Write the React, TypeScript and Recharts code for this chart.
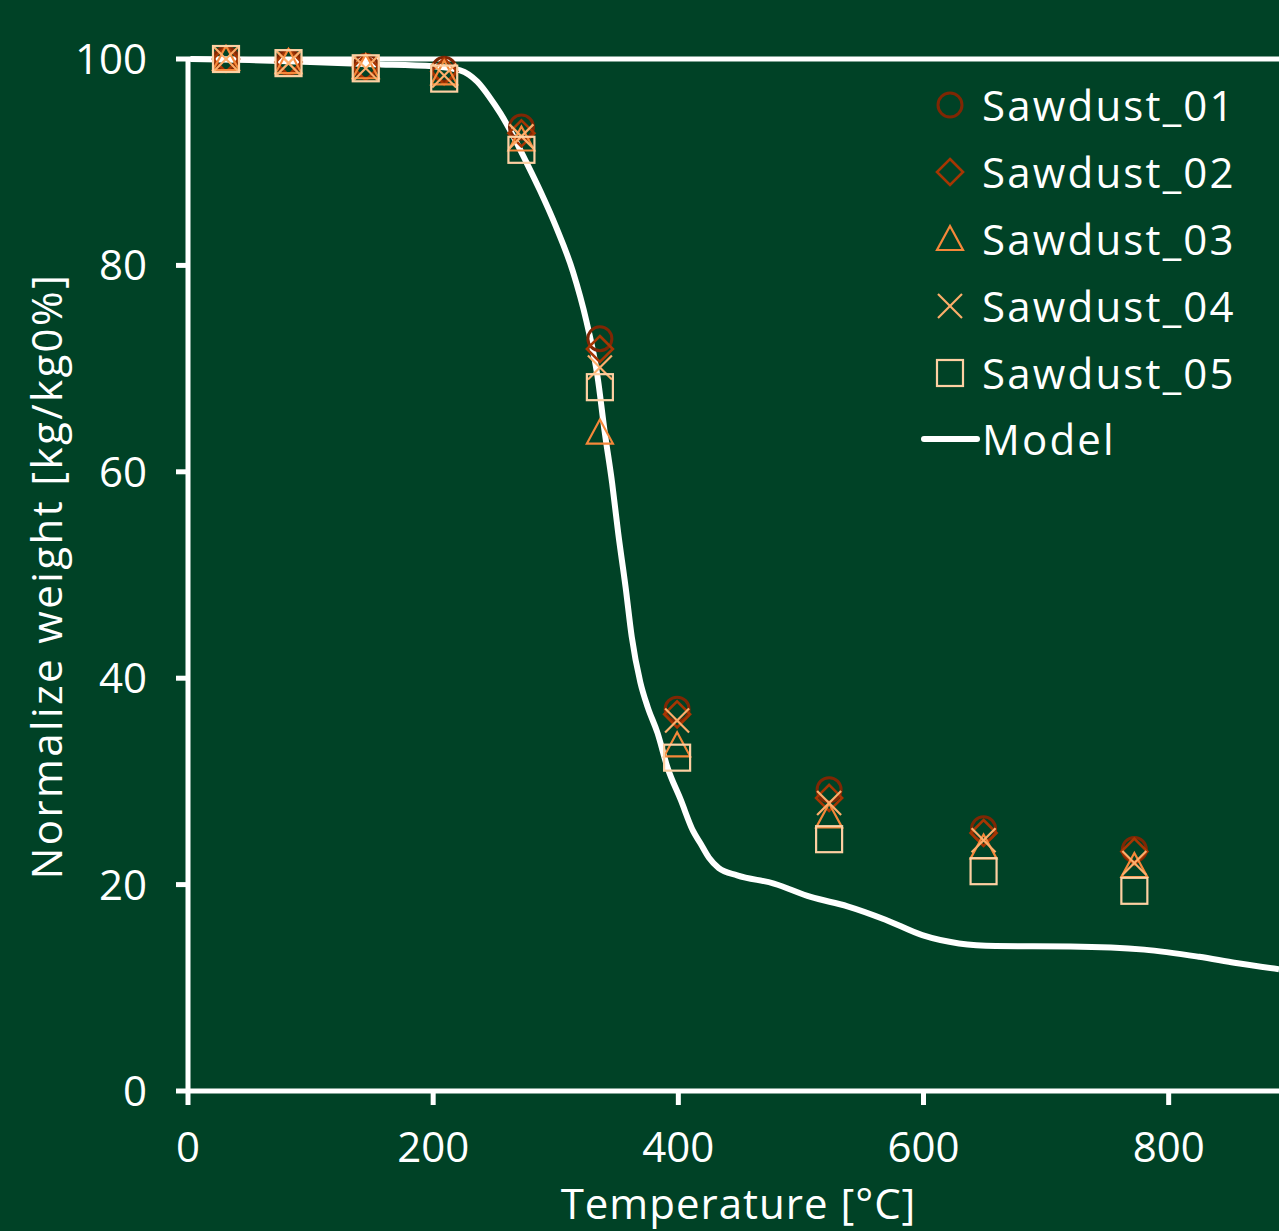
import React from "react";
import { ComposedChart, Scatter, Line, XAxis, YAxis, ReferenceLine, Legend, Label } from "recharts";

const temperatures = [31, 82, 145, 209, 272, 336, 399, 523, 649, 772];
const sawdust01 = [100, 99.7, 99.3, 99.0, 93.4, 72.9, 37.0, 29.2, 25.4, 23.4];
const sawdust02 = [100, 99.7, 99.2, 98.8, 92.8, 71.9, 36.5, 28.4, 25.0, 23.2];
const sawdust03 = [100, 99.7, 99.2, 98.6, 92.2, 63.8, 33.5, 26.6, 23.6, 21.8];
const sawdust04 = [100, 99.6, 99.1, 98.4, 92.5, 70.1, 35.9, 27.9, 24.3, 22.1];
const sawdust05 = [100, 99.6, 99.1, 98.1, 91.2, 68.2, 32.3, 24.4, 21.3, 19.4];

const modelTemps = [
  2, 50, 100, 150, 200, 222, 236, 246, 255, 265, 276, 287, 300, 314, 325, 334, 340, 346, 351, 357, 362, 369, 375, 383,
  391, 402, 412, 418, 425, 433, 448, 478, 508, 538, 569, 599, 629, 659, 720, 780, 825, 855, 890,
];
const modelWeights = [
  100, 99.9, 99.7, 99.5, 99.3, 98.9, 97.8, 96.3, 94.7, 92.6, 90.0, 87.3, 83.8, 79.4, 74.6, 69.3, 63.8, 58.9, 54.0, 48.8,
  44.0, 39.6, 37.2, 34.7, 31.4, 28.2, 25.2, 24.0, 22.6, 21.6, 20.9, 20.1, 18.8, 17.9, 16.6, 15.1, 14.3, 14.05, 14.0,
  13.7, 13.0, 12.4, 11.8,
];

const xTicks = [0, 200, 400, 600, 800];
const yTicks = [0, 20, 40, 60, 80, 100];

const BG = "#004226";
const FONT = "'Open Sans', sans-serif";

type Kind = "circle" | "diamond" | "triangle" | "cross" | "square";

const SERIES: { name: string; values: number[]; color: string; kind: Kind }[] = [
  { name: "Sawdust_01", values: sawdust01, color: "#7f2704", kind: "circle" },
  { name: "Sawdust_02", values: sawdust02, color: "#a63603", kind: "diamond" },
  { name: "Sawdust_03", values: sawdust03, color: "#f5883a", kind: "triangle" },
  { name: "Sawdust_04", values: sawdust04, color: "#fdae6b", kind: "cross" },
  { name: "Sawdust_05", values: sawdust05, color: "#fdd0a2", kind: "square" },
];

const modelData = modelTemps.map((t, i) => ({ t, w: modelWeights[i] }));

function Marker({ kind, cx, cy, color }: { kind: Kind; cx: number; cy: number; color: string }) {
  const r = 13;
  const common = { fill: "none", stroke: color, strokeWidth: 2.2 };
  if (kind === "circle") return <circle cx={cx} cy={cy} r={r - 1} {...common} strokeWidth={3} />;
  if (kind === "diamond")
    return <polygon points={`${cx},${cy - r} ${cx + r},${cy} ${cx},${cy + r} ${cx - r},${cy}`} {...common} strokeWidth={2.6} />;
  if (kind === "triangle")
    return <polygon points={`${cx},${cy - r} ${cx + r},${cy + 11} ${cx - r},${cy + 11}`} {...common} />;
  if (kind === "cross")
    return (
      <g {...common}>
        <line x1={cx - 12} y1={cy - 12} x2={cx + 12} y2={cy + 12} />
        <line x1={cx - 12} y1={cy + 12} x2={cx + 12} y2={cy - 12} />
      </g>
    );
  return <rect x={cx - r} y={cy - r} width={2 * r} height={2 * r} {...common} />;
}

function LegendBox() {
  const rowH = 66.8;
  return (
    <div style={{ fontFamily: FONT, color: "#fff", fontSize: 42, letterSpacing: 2.2 }}>
      {SERIES.map((s) => (
        <div key={s.name} style={{ display: "flex", alignItems: "center", height: rowH }}>
          <svg width={64} height={40} style={{ display: "block" }}>
            <Marker kind={s.kind} cx={32} cy={20} color={s.color} />
          </svg>
          <span style={{ lineHeight: 1 }}>{s.name}</span>
        </div>
      ))}
      <div style={{ display: "flex", alignItems: "center", height: rowH }}>
        <svg width={64} height={40} style={{ display: "block" }}>
          <line x1={6} y1={20} x2={59} y2={20} stroke="#fff" strokeWidth={6} strokeLinecap="round" />
        </svg>
        <span style={{ lineHeight: 1 }}>Model</span>
      </div>
    </div>
  );
}

export default function App() {
  return (
    <div style={{ width: 1279, height: 1231, background: BG, overflow: "hidden" }}>
      <style>{"body{margin:0}"}</style>
      <ComposedChart width={1279} height={1231} margin={{ top: 59, right: 0, bottom: 0, left: 0 }}>
        <XAxis
          type="number"
          dataKey="t"
          domain={[0, 890]}
          ticks={xTicks}
          allowDataOverflow
          height={140}
          axisLine={{ stroke: "#fff", strokeWidth: 5 }}
          tickLine={{ stroke: "#fff", strokeWidth: 5 }}
          tickSize={14}
          tickMargin={27}
          tick={{ fill: "#fff", fontSize: 42, fontFamily: FONT }}
        >
          <Label
            content={({ viewBox }: any) => (
              <text
                x={viewBox.x + viewBox.width / 2 + 5}
                y={viewBox.y + 128}
                textAnchor="middle"
                fill="#fff"
                fontSize={42}
                fontFamily={FONT}
                letterSpacing={1}
              >
                Temperature [°C]
              </text>
            )}
          />
        </XAxis>
        <YAxis
          type="number"
          dataKey="w"
          domain={[0, 100]}
          ticks={yTicks}
          width={188}
          axisLine={{ stroke: "#fff", strokeWidth: 5 }}
          tickLine={{ stroke: "#fff", strokeWidth: 5 }}
          tickSize={12}
          tickMargin={29}
          tick={{ fill: "#fff", fontSize: 42, fontFamily: FONT }}
        >
          <Label
            content={({ viewBox }: any) => {
              const cx = 45;
              const cy = viewBox.y + viewBox.height / 2 + 1;
              return (
                <text
                  x={cx}
                  y={cy}
                  transform={`rotate(-90 ${cx} ${cy})`}
                  textAnchor="middle"
                  dominantBaseline="central"
                  fill="#fff"
                  fontSize={42}
                  fontFamily={FONT}
                  letterSpacing={2.4}
                >
                  Normalize weight [kg/kg0%]
                </text>
              );
            }}
          />
        </YAxis>
        <ReferenceLine y={100} stroke="#fff" strokeWidth={5} ifOverflow="visible" />
        {SERIES.map((s) => (
          <Scatter
            key={s.name}
            name={s.name}
            data={temperatures.map((t, i) => ({ t, w: s.values[i] }))}
            isAnimationActive={false}
            shape={(p: any) => <Marker kind={s.kind} cx={p.cx} cy={p.cy} color={s.color} />}
          />
        ))}
        <Line
          data={modelData}
          dataKey="w"
          type="monotone"
          stroke="#fff"
          strokeWidth={6}
          dot={false}
          activeDot={false}
          isAnimationActive={false}
          name="Model"
        />
        <Legend
          layout="vertical"
          align="center"
          verticalAlign="middle"
          content={() => <LegendBox />}
          wrapperStyle={{ position: "absolute", left: 918, top: 72, width: 360 }}
        />
      </ComposedChart>
    </div>
  );
}
